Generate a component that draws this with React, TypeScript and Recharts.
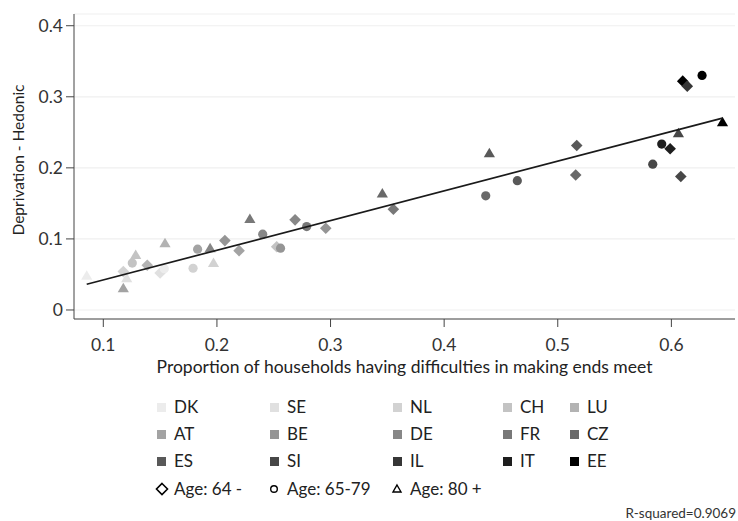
import React from 'react'
import { ScatterChart, Scatter, XAxis, YAxis, CartesianGrid } from 'recharts'

const COUNTRIES = ['DK', 'SE', 'NL', 'CH', 'LU', 'AT', 'BE', 'DE', 'FR', 'CZ', 'ES', 'SI', 'IL', 'IT', 'EE']
const SHADES = ['#ececec', '#e0e0e0', '#d2d2d2', '#c3c3c3', '#b3b3b3', '#a3a3a3', '#959595', '#878787', '#787878', '#696969', '#595959', '#474747', '#363636', '#1e1e1e', '#000000']

// age 64 - (diamonds)
const AGE_64 = [
  { c: 'NL', x: 0.1176, y: 0.054 },
  { c: 'SE', x: 0.15, y: 0.052 },
  { c: 'LU', x: 0.1387, y: 0.063 },
  { c: 'BE', x: 0.207, y: 0.0976 },
  { c: 'AT', x: 0.2195, y: 0.0835 },
  { c: 'CH', x: 0.2526, y: 0.089 },
  { c: 'DE', x: 0.2688, y: 0.1268 },
  { c: 'BE', x: 0.2958, y: 0.115 },
  { c: 'FR', x: 0.3553, y: 0.1418 },
  { c: 'CZ', x: 0.5158, y: 0.19 },
  { c: 'ES', x: 0.5167, y: 0.2314 },
  { c: 'IT', x: 0.5989, y: 0.2268 },
  { c: 'SI', x: 0.6083, y: 0.1878 },
  { c: 'EE', x: 0.61, y: 0.322 },
  { c: 'IL', x: 0.614, y: 0.315 },
]

// age 65-79 (circles)
const AGE_65 = [
  { c: 'CH', x: 0.1255, y: 0.066 },
  { c: 'DK', x: 0.1537, y: 0.058 },
  { c: 'NL', x: 0.179, y: 0.0587 },
  { c: 'AT', x: 0.183, y: 0.0855 },
  { c: 'DE', x: 0.2403, y: 0.1066 },
  { c: 'BE', x: 0.256, y: 0.0869 },
  { c: 'FR', x: 0.279, y: 0.1174 },
  { c: 'CZ', x: 0.4366, y: 0.1606 },
  { c: 'ES', x: 0.4644, y: 0.182 },
  { c: 'SI', x: 0.5836, y: 0.2052 },
  { c: 'IT', x: 0.5915, y: 0.2334 },
  { c: 'EE', x: 0.627, y: 0.33 },
]

// age 80 + (triangles)
const AGE_80 = [
  { c: 'DK', x: 0.0854, y: 0.048 },
  { c: 'AT', x: 0.1176, y: 0.0305 },
  { c: 'SE', x: 0.1206, y: 0.0446 },
  { c: 'CH', x: 0.1285, y: 0.0775 },
  { c: 'LU', x: 0.1543, y: 0.094 },
  { c: 'DE', x: 0.194, y: 0.087 },
  { c: 'NL', x: 0.197, y: 0.066 },
  { c: 'FR', x: 0.229, y: 0.128 },
  { c: 'CZ', x: 0.3456, y: 0.164 },
  { c: 'ES', x: 0.4398, y: 0.2207 },
  { c: 'SI', x: 0.6062, y: 0.2488 },
  { c: 'EE', x: 0.645, y: 0.264 },
]

// fitted line end points
const FIT = [
  { x: 0.0854, y: 0.0362 },
  { x: 0.645, y: 0.27 },
]

const X_TICKS = [0.1, 0.2, 0.3, 0.4, 0.5, 0.6]
const Y_TICKS = [0, 0.1, 0.2, 0.3, 0.4]
const AGE_LABELS = ['Age: 64 -', 'Age: 65-79', 'Age: 80 +']

const FONT = 'Lato, "Open Sans", sans-serif'
const colorOf = (c: string) => SHADES[COUNTRIES.indexOf(c)]

const Diamond = (props: any) => {
  const { cx, cy, payload } = props
  const r = 5.8
  return <polygon points={`${cx},${cy - r} ${cx + r},${cy} ${cx},${cy + r} ${cx - r},${cy}`} fill={colorOf(payload.c)} />
}

const Dot = (props: any) => {
  const { cx, cy, payload } = props
  return <circle cx={cx} cy={cy} r={4.6} fill={colorOf(payload.c)} />
}

const Tri = (props: any) => {
  const { cx, cy, payload } = props
  const h = 5.5
  return <polygon points={`${cx},${cy - h} ${cx + 5.6},${cy + 4} ${cx - 5.6},${cy + 4}`} fill={colorOf(payload.c)} />
}

const COL_X = [157, 270, 393, 503, 570]
const ROW_Y = [407, 434, 461, 489]

const Legend = () => (
  <>
    {COUNTRIES.map((c, i) => {
      const col = i % 5
      const row = Math.floor(i / 5)
      const x = COL_X[col]
      const y = ROW_Y[row]
      return (
        <React.Fragment key={c}>
          <div style={{ position: 'absolute', left: x, top: y - 4.5, width: 9, height: 9, background: SHADES[i] }} />
          <div style={{ position: 'absolute', left: x + 17, top: y - 12, height: 24, lineHeight: '24px', fontSize: 17, fontFamily: FONT, color: '#222' }}>{c}</div>
        </React.Fragment>
      )
    })}
    {AGE_LABELS.map((a, i) => {
      const x = COL_X[i]
      const y = ROW_Y[3]
      return (
        <React.Fragment key={a}>
          <svg style={{ position: 'absolute', left: x - 2, top: y - 7 }} width={14} height={14}>
            {i === 0 && <polygon points="7,1.5 12.5,7 7,12.5 1.5,7" fill="none" stroke="#000" strokeWidth={1.6} />}
            {i === 1 && <circle cx={6} cy={7} r={3.3} fill="none" stroke="#000" strokeWidth={1.4} />}
            {i === 2 && <polygon points="6,3 10,10 2,10" fill="none" stroke="#000" strokeWidth={1.4} />}
          </svg>
          <div style={{ position: 'absolute', left: x + 17, top: y - 12, height: 24, lineHeight: '24px', fontSize: 17, fontFamily: FONT, color: '#222', whiteSpace: 'nowrap' }}>{a}</div>
        </React.Fragment>
      )
    })}
  </>
)

export default function App() {
  return (
    <div style={{ position: 'absolute', left: 0, top: 0, width: 738, height: 521, background: '#fff', overflow: 'hidden' }}>
      <ScatterChart width={738} height={521} margin={{ top: 14, right: 3, bottom: 152, left: 0 }}>
        <CartesianGrid vertical={false} stroke="#efefef" strokeWidth={1.2} />
        <XAxis
          type="number"
          dataKey="x"
          domain={[0.0742, 0.656]}
          ticks={X_TICKS}
          allowDataOverflow
          height={50}
          tickSize={8}
          tickMargin={12}
          stroke="#444"
          tick={{ fontSize: 17.5, fill: '#333', fontFamily: FONT }}
          label={{
            content: () => (
              <text x={404.5} y={373} textAnchor="middle" fontSize={17.5} fill="#222" fontFamily={FONT}>
                Proportion of households having difficulties in making ends meet
              </text>
            ),
          }}
        />
        <YAxis
          type="number"
          dataKey="y"
          domain={[-0.0127, 0.4165]}
          ticks={Y_TICKS}
          allowDataOverflow
          width={74}
          tickSize={8}
          tickMargin={3}
          stroke="#444"
          tick={{ fontSize: 17.5, fill: '#333', fontFamily: FONT }}
          label={{
            content: () => (
              <text x={24} y={160} transform="rotate(-90, 24, 160)" textAnchor="middle" fontSize={15.5} fill="#222" fontFamily={FONT}>
                Deprivation - Hedonic
              </text>
            ),
          }}
        />
        <Scatter data={AGE_64} shape={Diamond} isAnimationActive={false} />
        <Scatter data={AGE_65} shape={Dot} isAnimationActive={false} />
        <Scatter data={AGE_80} shape={Tri} isAnimationActive={false} />
        <Scatter data={FIT} line={{ stroke: '#1a1a1a', strokeWidth: 1.7 }} shape={() => <g />} isAnimationActive={false} />
      </ScatterChart>
      <Legend />
      <div style={{ position: 'absolute', right: 2, top: 505, fontSize: 13.5, fontFamily: FONT, color: '#333', whiteSpace: 'nowrap' }}>R-squared=0.9069</div>
    </div>
  )
}
